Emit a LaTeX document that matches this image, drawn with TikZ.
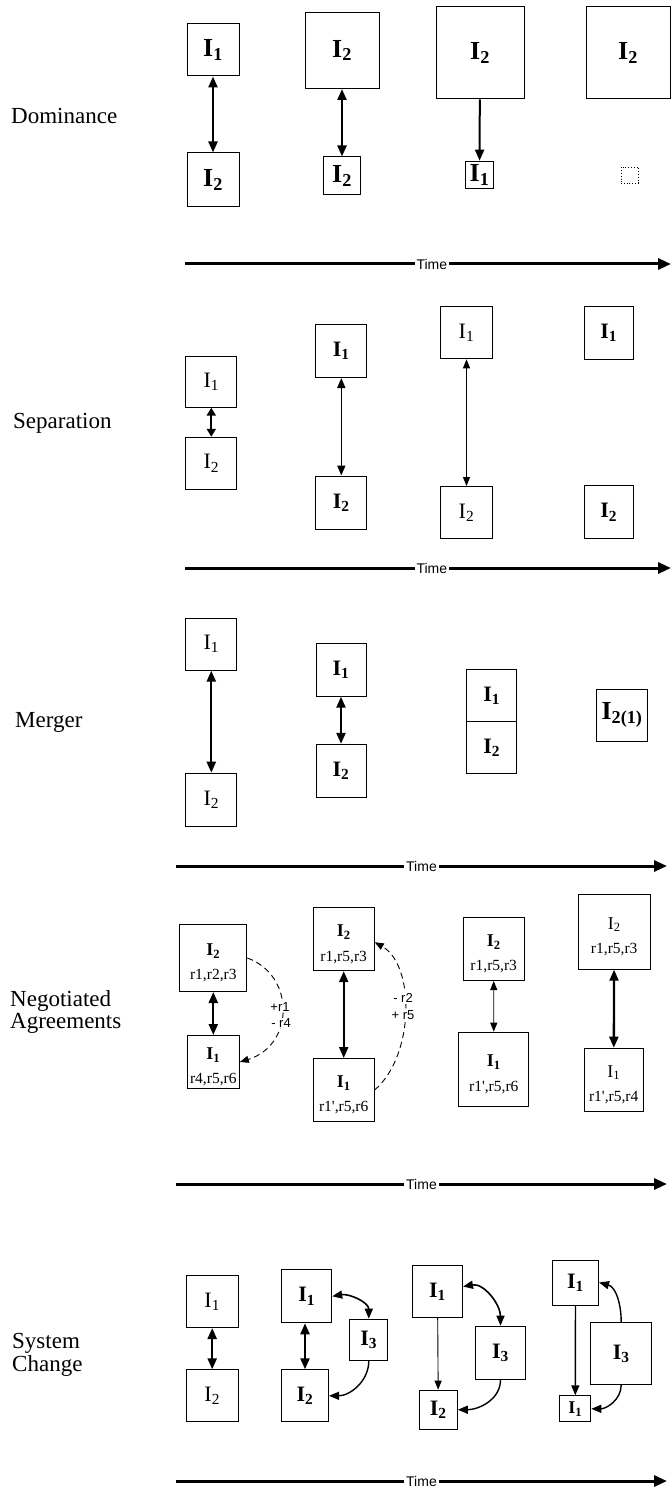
\documentclass[tikz,border=0pt]{standalone}
\usepackage{fontspec}
\setmainfont{Liberation Serif}
\newfontfamily\sansf{Liberation Sans}
\usetikzlibrary{arrows.meta}
\newcommand\Ib[1]{\textbf{I\textsubscript{#1}}}
\newcommand\Ir[1]{I\textsubscript{#1}}
\newcommand\pr{\textquotesingle}
\tikzset{
  bx/.style={draw, line width=1pt, inner sep=0pt, font=\fontsize{22}{24}\selectfont},
  bxbig/.style={bx, font=\fontsize{26}{28}\selectfont},
  bxsm/.style={bx, font=\fontsize{18}{20}\selectfont},
  lab/.style={anchor=base west, inner sep=0pt, font=\fontsize{23}{24}\selectfont},
  tline/.style={line width=3pt, -{Triangle[length=13pt,width=11pt]}},
  tlab/.style={fill=white, inner sep=2pt, font=\sansf\fontsize{14}{15}\selectfont},
  dblthick/.style={line width=2.3pt, {Triangle[length=11pt,width=9pt]}-{Triangle[length=11pt,width=9pt]}},
  dblshort/.style={line width=2.3pt, {Triangle[length=8pt,width=9pt]}-{Triangle[length=8pt,width=9pt]}},
  dblmed/.style={line width=1.6pt, {Triangle[length=10pt,width=8pt]}-{Triangle[length=10pt,width=8pt]}},
  dblthin/.style={line width=0.9pt, {Triangle[length=9pt,width=7pt]}-{Triangle[length=9pt,width=7pt]}},
  sglthick/.style={line width=2pt, -{Triangle[length=11pt,width=9pt]}},
  sglmed/.style={line width=1.4pt, -{Triangle[length=10pt,width=8pt]}},
  sglthin/.style={line width=0.9pt, -{Triangle[length=9pt,width=7pt]}},
  dsh/.style={line width=0.9pt, dash pattern=on 6pt off 4pt, -{Triangle[length=9pt,width=7pt]}},
  rlab/.style={fill=white, inner sep=1pt, font=\sansf\fontsize{13}{14}\selectfont},
  ntI/.style={inner sep=0pt, font=\fontsize{18}{20}\selectfont},
  ntR/.style={inner sep=0pt, font=\fontsize{15.5}{17}\selectfont},
}
\newcommand\nbox[6]{%
  \node[draw, line width=1pt, inner sep=0pt, minimum width=#3, minimum height=#4] (#1) at #2 {};
  \node[ntI] (#1I) at ([yshift=7pt]#1.center) {#5};
  \node[ntR] (#1R) at ([yshift=-18pt]#1.center) {#6};}
\begin{document}
\begin{tikzpicture}[x=1pt,y=-1pt]
\useasboundingbox (0,0) rectangle (671,1487);

% ---------- left labels
\node[lab] (Ldom) at (11,124) {Dominance};
\node[lab] (Lsep) at (13,428) {Separation};
\node[lab] (Lmer) at (15,727) {Merger};
\node[lab] (Lneg1) at (10,1006) {Negotiated};
\node[lab] (Lneg2) at (10,1028) {Agreements};
\node[lab] (Lsys1) at (12,1348) {System};
\node[lab] (Lsys2) at (12,1371) {Change};

% ---------- time arrows
\coordinate (t1s) at (185,264); \coordinate (t1e) at (671,264);
\coordinate (t2s) at (185,568); \coordinate (t2e) at (671,568);
\coordinate (t3s) at (176,866); \coordinate (t3e) at (667,866);
\coordinate (t4s) at (176,1184); \coordinate (t4e) at (667,1184);
\coordinate (t5s) at (176,1481); \coordinate (t5e) at (667,1481);
\draw[tline] (t1s) -- node[tlab, pos=0.508] {Time} (t1e);
\draw[tline] (t2s) -- node[tlab, pos=0.508] {Time} (t2e);
\draw[tline] (t3s) -- node[tlab, pos=0.5] {Time} (t3e);
\draw[tline] (t4s) -- node[tlab, pos=0.5] {Time} (t4e);
\draw[tline] (t5s) -- node[tlab, pos=0.5] {Time} (t5e);

% ---------- Dominance
\node[bxbig, minimum width=52, minimum height=52] (d1a) at (213,50) {\Ib{1}};
\node[bxbig, minimum width=52, minimum height=54] (d1b) at (213,180) {\Ib{2}};
\node[bxbig, minimum width=74, minimum height=76] (d2a) at (342,50.5) {\Ib{2}};
\node[bxbig, minimum width=37, minimum height=38] (d2b) at (342,176) {\Ib{2}};
\node[bxbig, minimum width=88, minimum height=92] (d3a) at (480,53) {\Ib{2}};
\node[bxbig, minimum width=28, minimum height=27] (d3b) at (479.5,174.7) {\Ib{1}};
\node[bxbig, minimum width=84, minimum height=92] (d4a) at (628,53) {\Ib{2}};
\node[draw, dotted, line width=0.8pt, inner sep=0pt, minimum width=17, minimum height=16] (d4b) at (629.5,175) {};
\draw[dblthick] (d1a) -- (d1b);
\draw[dblthick] (d2a) -- (d2b);
\draw[sglthick] (d3a) -- (d3b);

% ---------- Separation
\node[bx, minimum width=51, minimum height=51] (s1a) at (211.3,381.7) {\Ir{1}};
\node[bx, minimum width=51, minimum height=52] (s1b) at (211.3,463.3) {\Ir{2}};
\node[bx, minimum width=51, minimum height=53] (s2a) at (341.3,351) {\Ib{1}};
\node[bx, minimum width=51, minimum height=53] (s2b) at (341.3,502.5) {\Ib{2}};
\node[bx, minimum width=52, minimum height=52] (s3a) at (466.5,332.8) {\Ir{1}};
\node[bx, minimum width=52, minimum height=52] (s3b) at (466.5,512.5) {\Ir{2}};
\node[bx, minimum width=49, minimum height=53] (s4a) at (608.7,333) {\Ib{1}};
\node[bx, minimum width=49, minimum height=53] (s4b) at (608.7,512.3) {\Ib{2}};
\draw[dblshort] (s1a) -- (s1b);
\draw[dblmed] (s2a) -- (s2b);
\draw[dblthin] (s3a) -- (s3b);

% ---------- Merger
\node[bx, minimum width=51, minimum height=52] (m1a) at (211.3,644.2) {\Ir{1}};
\node[bx, minimum width=51, minimum height=53] (m1b) at (211.3,799.7) {\Ir{2}};
\node[bx, minimum width=50, minimum height=53] (m2a) at (341,669.7) {\Ib{1}};
\node[bx, minimum width=50, minimum height=53] (m2b) at (341,770.8) {\Ib{2}};
\node[bx, minimum width=50, minimum height=52] (m3a) at (491.7,695.8) {\Ib{1}};
\node[bx, minimum width=50, minimum height=52] (m3b) at (491.7,747.8) {\Ib{2}};
\node[bxbig, minimum width=51, minimum height=52] (m4) at (622,715.2) {\Ib{2(1)}};
\draw[dblthick] (m1a) -- (m1b);
\draw[dblthick] (m2a) -- (m2b);

% ---------- Negotiated Agreements
\nbox{n1a}{(213.3,958)}{67}{67}{\Ib{2}}{r1,r2,r3}
\nbox{n1b}{(213.3,1062)}{52}{53}{\Ib{1}}{r4,r5,r6}
\nbox{n2a}{(343.7,939.2)}{61}{63}{\Ib{2}}{r1,r5,r3}
\nbox{n2b}{(343.7,1090)}{61}{63}{\Ib{1}}{r1\pr,r5,r6}
\nbox{n3a}{(493.7,949)}{61}{63}{\Ib{2}}{r1,r5,r3}
\nbox{n3b}{(493.8,1069.2)}{70}{74}{\Ib{1}}{r1\pr,r5,r6}
\nbox{n4a}{(614.2,931.7)}{72}{75}{\Ir{2}}{r1,r5,r3}
\nbox{n4b}{(613.7,1079.7)}{59}{63}{\Ir{1}}{r1\pr,r5,r4}
\draw[dblthick] (n1a) -- (n1b);
\draw[dblthick] (n2a) -- (n2b);
\draw[dblthin] (n3a) -- (n3b);
\draw[dblthick] (n4a) -- (n4b);
\draw[dsh] (n1a.east) .. controls (295,975) and (295,1045) .. (n1b.east);
\draw[dsh] (n2b.east) .. controls (415,1055) and (415,965) .. ([yshift=-3pt]n2a.east);
\node[rlab] (lr1) at (280,1007) {+r1};
\node[rlab] (lr4) at (281,1023) {- r4};
\node[rlab] (lr2) at (403,998) {- r2};
\node[rlab] (lr5) at (403,1015) {+ r5};

% ---------- System Change
\node[bx, minimum width=52, minimum height=52] (c1a) at (212.2,1301.5) {\Ir{1}};
\node[bx, minimum width=52, minimum height=52] (c1b) at (212.2,1395.8) {\Ir{2}};
\node[bx, minimum width=50, minimum height=53] (c2a) at (306.7,1296.3) {\Ib{1}};
\node[bx, minimum width=47, minimum height=52] (c2b) at (305,1395.8) {\Ib{2}};
\node[bx, minimum width=38, minimum height=41] (c2c) at (368.8,1339.7) {\Ib{3}};
\node[bx, minimum width=50, minimum height=52] (c3a) at (437.5,1291.5) {\Ib{1}};
\node[bx, minimum width=50, minimum height=53] (c3c) at (500.5,1352.7) {\Ib{3}};
\node[bx, minimum width=38, minimum height=39] (c3b) at (438.3,1409.7) {\Ib{2}};
\node[bx, minimum width=46, minimum height=45] (c4a) at (575.5,1282.5) {\Ib{1}};
\node[bx, minimum width=61, minimum height=62] (c4c) at (621.2,1353.5) {\Ib{3}};
\node[bxsm, minimum width=31, minimum height=26] (c4b) at (575.3,1408.8) {\Ib{1}};
\draw[dblthick] (c1a) -- (c1b);
\draw[dblthick] (c2b.north) -- (c2b.north |- c2a.south);
\draw[dblmed] (c2a.east) to[out=10,in=90] (c2c.north);
\draw[sglmed] (c2c.south) to[out=-90,in=0] (c2b.east);
\draw[sglthin] (c3a) -- (c3b);
\draw[dblmed] ([yshift=5pt]c3a.east) to[out=10,in=90] (c3c.north);
\draw[sglmed] (c3c.south) to[out=-90,in=0] (c3b.east);
\draw[sglmed] (c4a) -- (c4b);
\draw[sglmed] (c4c.north) to[out=90,in=-15] (c4a.east);
\draw[sglmed] (c4c.south) to[out=-90,in=0] (c4b.east);
\end{tikzpicture}
\end{document}
